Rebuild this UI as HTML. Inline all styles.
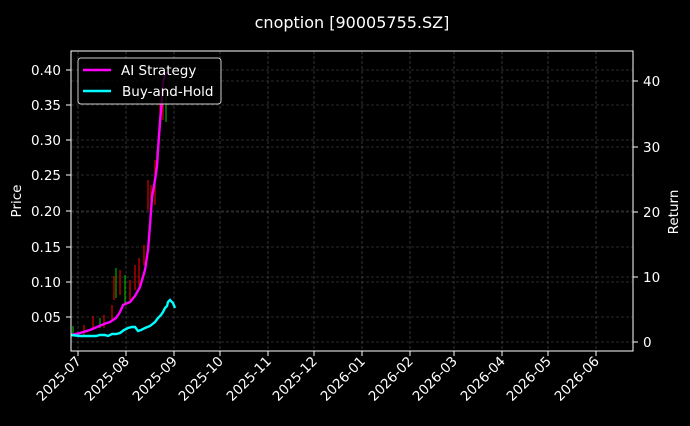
<!DOCTYPE html>
<html><head><style>
body{margin:0;background:#000;width:690px;height:421px;overflow:hidden}
svg text{font-family:"DejaVu Sans","Liberation Sans",sans-serif;fill:#fff}
</style></head><body>
<svg width="690" height="421" viewBox="0 0 690 421" xmlns="http://www.w3.org/2000/svg">
<rect width="690" height="421" fill="#000"/>
<text x="352" y="28" font-size="16" text-anchor="middle">cnoption [90005755.SZ]</text>
<g stroke="#555" stroke-width="0.6" stroke-dasharray="3,2">
<line x1="78" y1="51" x2="78" y2="351"/><line x1="126" y1="51" x2="126" y2="351"/><line x1="174" y1="51" x2="174" y2="351"/><line x1="220" y1="51" x2="220" y2="351"/><line x1="268" y1="51" x2="268" y2="351"/><line x1="314" y1="51" x2="314" y2="351"/><line x1="362" y1="51" x2="362" y2="351"/><line x1="410" y1="51" x2="410" y2="351"/><line x1="454" y1="51" x2="454" y2="351"/><line x1="502" y1="51" x2="502" y2="351"/><line x1="548" y1="51" x2="548" y2="351"/><line x1="596" y1="51" x2="596" y2="351"/>
<line x1="71" y1="70" x2="633" y2="70"/><line x1="71" y1="105" x2="633" y2="105"/><line x1="71" y1="140" x2="633" y2="140"/><line x1="71" y1="175" x2="633" y2="175"/><line x1="71" y1="211" x2="633" y2="211"/><line x1="71" y1="247" x2="633" y2="247"/><line x1="71" y1="282" x2="633" y2="282"/><line x1="71" y1="317" x2="633" y2="317"/>
<line x1="71" y1="81" x2="633" y2="81"/><line x1="71" y1="147" x2="633" y2="147"/><line x1="71" y1="212" x2="633" y2="212"/><line x1="71" y1="277" x2="633" y2="277"/><line x1="71" y1="342" x2="633" y2="342"/>
</g>
<g stroke-width="1.2">
<line x1="73" y1="326" x2="73" y2="336" stroke="#0a0"/><line x1="84" y1="325" x2="84" y2="335" stroke="#d00"/><line x1="93" y1="316" x2="93" y2="330" stroke="#d00"/><line x1="100" y1="318" x2="100" y2="328" stroke="#0a0"/><line x1="104" y1="315" x2="104" y2="328" stroke="#d00"/><line x1="112" y1="305" x2="112" y2="320" stroke="#d00"/><line x1="114" y1="276" x2="114" y2="300" stroke="#d00"/><line x1="116" y1="268" x2="116" y2="298" stroke="#0a0"/><line x1="120" y1="270" x2="120" y2="295" stroke="#d00"/><line x1="125" y1="275" x2="125" y2="305" stroke="#0a0"/><line x1="130" y1="280" x2="130" y2="300" stroke="#d00"/><line x1="135" y1="265" x2="135" y2="290" stroke="#d00"/><line x1="139" y1="258" x2="139" y2="285" stroke="#d00"/><line x1="144" y1="245" x2="144" y2="265" stroke="#d00"/><line x1="148" y1="180" x2="148" y2="210" stroke="#d00"/><line x1="151" y1="185" x2="151" y2="205" stroke="#d00"/><line x1="155" y1="160" x2="155" y2="205" stroke="#d00"/><line x1="157" y1="150" x2="157" y2="165" stroke="#0a0"/><line x1="160" y1="100" x2="160" y2="130" stroke="#d00"/><line x1="163" y1="100" x2="163" y2="120" stroke="#d00"/><line x1="166" y1="95" x2="166" y2="122" stroke="#0a0"/>
</g>
<polyline fill="none" stroke="#ff00ff" stroke-width="2.4" points="71,335 80,333 90,330 97,327 104,324 110,322 116,318 120,312 123,305 130,302 135,296 140,287 145,270 148,250 150,225 152,197 155,180 157,166 158,150 160,122 162,100 163,82 165,75 166,72"/>
<polyline fill="none" stroke="#00ffff" stroke-width="2.4" points="71,335 80,336 90,336 96,336 100,335 105,335 108,336 112,334 116,334 120,333 124,330 128,328 132,327 135,327 138,331 141,330 145,328 150,326 155,322 158,318 161,315 163,312 165,308 167,306 168,302 170,300 173,303 175,308"/>
<rect x="71" y="51" width="562" height="300" fill="none" stroke="#fff" stroke-width="1"/>
<g stroke="#fff" stroke-width="1">
<line x1="66" y1="70" x2="71" y2="70"/><line x1="66" y1="105" x2="71" y2="105"/><line x1="66" y1="140" x2="71" y2="140"/><line x1="66" y1="175" x2="71" y2="175"/><line x1="66" y1="211" x2="71" y2="211"/><line x1="66" y1="247" x2="71" y2="247"/><line x1="66" y1="282" x2="71" y2="282"/><line x1="66" y1="317" x2="71" y2="317"/>
<line x1="633" y1="81" x2="638" y2="81"/><line x1="633" y1="147" x2="638" y2="147"/><line x1="633" y1="212" x2="638" y2="212"/><line x1="633" y1="277" x2="638" y2="277"/><line x1="633" y1="342" x2="638" y2="342"/>
<line x1="78" y1="351" x2="78" y2="356"/><line x1="126" y1="351" x2="126" y2="356"/><line x1="174" y1="351" x2="174" y2="356"/><line x1="220" y1="351" x2="220" y2="356"/><line x1="268" y1="351" x2="268" y2="356"/><line x1="314" y1="351" x2="314" y2="356"/><line x1="362" y1="351" x2="362" y2="356"/><line x1="410" y1="351" x2="410" y2="356"/><line x1="454" y1="351" x2="454" y2="356"/><line x1="502" y1="351" x2="502" y2="356"/><line x1="548" y1="351" x2="548" y2="356"/><line x1="596" y1="351" x2="596" y2="356"/>
</g>
<g font-size="13.5" text-anchor="end">
<text x="61" y="75">0.40</text><text x="61" y="110">0.35</text><text x="61" y="145">0.30</text><text x="61" y="180">0.25</text><text x="61" y="216">0.20</text><text x="61" y="252">0.15</text><text x="61" y="287">0.10</text><text x="61" y="322">0.05</text>
</g>
<g font-size="13.5">
<text x="643" y="86">40</text><text x="643" y="152">30</text><text x="643" y="217">20</text><text x="643" y="282">10</text><text x="643" y="347">0</text>
</g>
<g font-size="13.5" text-anchor="end">
<text transform="translate(82,362) rotate(-45)">2025-07</text><text transform="translate(130,362) rotate(-45)">2025-08</text><text transform="translate(178,362) rotate(-45)">2025-09</text><text transform="translate(224,362) rotate(-45)">2025-10</text><text transform="translate(272,362) rotate(-45)">2025-11</text><text transform="translate(318,362) rotate(-45)">2025-12</text><text transform="translate(366,362) rotate(-45)">2026-01</text><text transform="translate(414,362) rotate(-45)">2026-02</text><text transform="translate(458,362) rotate(-45)">2026-03</text><text transform="translate(506,362) rotate(-45)">2026-04</text><text transform="translate(552,362) rotate(-45)">2026-05</text><text transform="translate(600,362) rotate(-45)">2026-06</text>
</g>
<text transform="translate(21,201) rotate(-90)" font-size="13.5" text-anchor="middle">Price</text>
<text transform="translate(678,212) rotate(-90)" font-size="13.5" text-anchor="middle">Return</text>
<rect x="78" y="58" width="143" height="46" rx="3" fill="#000" fill-opacity="0.8" stroke="#ccc" stroke-width="1"/>
<line x1="83" y1="70" x2="111" y2="70" stroke="#ff00ff" stroke-width="2.4"/>
<line x1="83" y1="91" x2="111" y2="91" stroke="#00ffff" stroke-width="2.4"/>
<text x="121" y="75" font-size="13.5">AI Strategy</text>
<text x="122" y="96" font-size="13.5">Buy-and-Hold</text>
</svg>
</body></html>
